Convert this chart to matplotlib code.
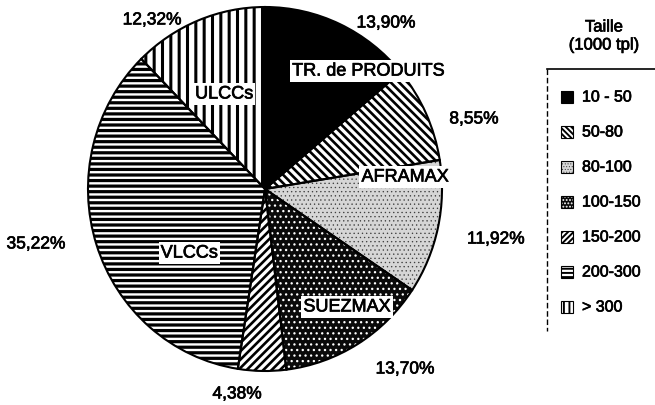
import matplotlib
matplotlib.use('Agg')
import matplotlib.pyplot as plt
from matplotlib.patches import Rectangle
import matplotlib.patheffects as pe

plt.rcParams['font.family'] = ['Liberation Sans', 'DejaVu Sans']
plt.rcParams['hatch.linewidth'] = 1.6

# data
categories = ['10 - 50', '50-80', '80-100', '100-150', '150-200', '200-300', '> 300']
shares = [13.90, 8.55, 11.92, 13.70, 4.38, 35.22, 12.32]
names = ['TR. de PRODUITS', '', 'AFRAMAX', 'SUEZMAX', '', 'VLCCs', 'ULCCs']

# styles
faces = ['black', 'white', '#d6d6d6', '#0a0a0a', 'white', 'white', 'white']
hatch_col = ['black', 'black', '#404040', 'white', 'black', 'black', 'black']
hatches = [None, '\\\\\\\\', '....', '...', '////', '---', '||']
hatch_lw = [1.6, 1.9, 0.45, 0.9, 1.9, 2.3, 2.2]
leg_hatches = [None, '\\\\\\\\\\\\', '......', '.....', '//////', '----', '|||']
pct_pos = [(0.684, 0.912), (1.181, 0.385), (1.305, -0.275), (0.791, -0.989),
           (-0.158, -1.126), (-1.294, -0.302), (-0.638, 0.929)]
name_pos = [(0.582, 0.648), None, (0.791, 0.066), (0.463, -0.648),
            None, (-0.429, -0.352), (-0.232, 0.522)]

thick = [pe.withStroke(linewidth=0.5, foreground='black')]


def style_patch(p, i, hatch, lw=None):
    p.set_edgecolor(hatch_col[i])
    if hatch:
        p.set_hatch(hatch)
    if hasattr(p, 'set_hatch_linewidth'):
        p.set_hatch_linewidth(lw if lw else hatch_lw[i])


W, H = 655, 406
fig = plt.figure(figsize=(6.55, 4.06), dpi=100)
cx, cy, rx, ry = 265, 190, 177, 182
ax = fig.add_axes([(cx - rx) / W, (H - cy - ry) / H, 2 * rx / W, 2 * ry / H])

wedges, _ = ax.pie(shares, startangle=90, counterclock=False, colors=faces,
                   wedgeprops=dict(linewidth=0))
for i, w in enumerate(wedges):
    style_patch(w, i, hatches[i])
# outlines
ax.pie(shares, startangle=90, counterclock=False, colors=['none'] * len(shares),
       wedgeprops=dict(linewidth=1.5, edgecolor='black', fill=False))
ax.set_aspect('auto')
ax.set_xlim(-1, 1)
ax.set_ylim(-1, 1)
ax.axis('off')

for v, (x, y) in zip(shares, pct_pos):
    ax.text(x, y, f'{v:.2f}%'.replace('.', ','), ha='center', va='center',
            fontsize=12.5, clip_on=False, path_effects=thick)

for n, p in zip(names, name_pos):
    if p is None:
        continue
    ax.text(p[0], p[1], n, ha='center', va='center', fontsize=13,
            path_effects=thick,
            bbox=dict(facecolor='white', edgecolor='none', pad=1.5))

# legend (pixel coordinates)
lax = fig.add_axes([0, 0, 1, 1])
lax.set_xlim(0, W)
lax.set_ylim(H, 0)
lax.axis('off')
lax.text(604, 28, 'Taille', ha='center', va='center', fontsize=12, path_effects=thick)
lax.text(604, 46, '(1000 tpl)', ha='center', va='center', fontsize=12, path_effects=thick)
lax.plot([547, W], [70, 70], color='black', lw=1.2)
lax.plot([547, 547], [70, 332], color='black', lw=1, ls=(0, (4, 2)))
for i, cat in enumerate(categories):
    y = 98 + 35 * i
    r = Rectangle((561, y - 6), 12, 12, facecolor=faces[i], lw=0)
    lax.add_patch(r)
    style_patch(r, i, leg_hatches[i], lw=min(hatch_lw[i], 1.4))
    lax.add_patch(Rectangle((561, y - 6), 12, 12, fill=False,
                            edgecolor='black', lw=0.8))
    lax.text(582, y, cat, ha='left', va='center', fontsize=11.5, path_effects=thick)

fig.savefig('out.png', dpi=100)
